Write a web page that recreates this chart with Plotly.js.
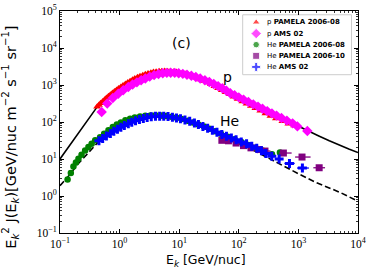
<!DOCTYPE html>
<html><head><meta charset="utf-8">
<script src="https://cdn.plot.ly/plotly-3.0.1.min.js"></script>
<style>body{margin:0;padding:0;background:#fff}#g{width:374px;height:279px}</style>
</head><body><div id="g"></div>
<script>
// ---- model curves ----
const pModelE = [0.1,0.13,0.17,0.22,0.3,0.42,0.6,0.85,1.2,1.7,2.4,3.4,4.8,6.8,10,15,22,33,50,75,110,170,250,400,600,1000,1500,2200,3300,5000,7000,10000];
const pModelJ = [10,18,33,59,119,256,470,750,1080,1450,1800,2100,2300,2330,2200,1900,1560,1200,870,600,430,305,225,155,113,76,56,42,31,23,18.5,15];
const heModelE = [0.1,0.15,0.2,0.3,0.44,0.7,1,2,4,10,30,60,100,140,200,300,500,1000,2000,5000,10000];
const heModelJ = [1.9,4.0,7.3,15,29,50,72,115,138,115,62,38,27,21,15.5,11,7,4.0,2.3,1.25,0.72];

// ---- p PAMELA 2006-08 ----
const pPamE = [0.42,0.45,0.48,0.52,0.56,0.6,0.65,0.7,0.76,0.82,0.89,0.96,1.05,1.14,1.25,1.37,1.5,1.65,1.8,2.0,2.2,2.45,2.7,3.0,3.35,3.7,4.1,4.6,5.1,5.7,6.4,7.1,8.0,9.0,10,11.3,12.7,14.3,16,18,20,23,26,30,34,39,45,52,60,70,82,96,115,135,160,190,230,280,340,420,540,680,850];
const pPamJ = [260,290,320,360,400,445,495,545,605,665,735,805,885,965,1060,1160,1270,1390,1490,1610,1720,1840,1950,2050,2150,2230,2290,2340,2370,2380,2370,2340,2290,2230,2160,2070,1970,1870,1770,1650,1540,1410,1290,1160,1040,930,820,720,640,560,480,420,360,310,270,235,200,170,145,124,104,90,80];

// ---- p AMS 02 ----
const pAmsE = [0.5,0.62,0.77,0.95,1.15,1.4,1.65,1.95,2.3,2.7,3.2,3.8,4.5,5.3,6.2,7.2,8.4,9.8,11.5,13.5,16,19,22.5,27,32,38,45,53,62,72,85,100,120,145,175,210,250,300,360,430,520,640,800,962,1413];
const pAmsJ = [186,316,446,580,720,880,1030,1180,1350,1500,1680,1850,1980,2080,2130,2150,2130,2080,2000,1900,1780,1640,1500,1350,1200,1060,930,820,700,600,527,464,403,347,300,261,228,197,171,149,128,109,92,76,57];

// ---- He PAMELA 2006-08 ----
const hePamE = [0.134,0.152,0.168,0.185,0.204,0.23,0.264,0.3,0.34,0.39,0.47,0.55,0.65,0.77,0.9,1.05,1.25,1.5,1.8,2.2,2.7,3.3,4,5,6,7.5,9,11,14,17,21,26,32,40,50,65,85,110,145,190,250,360,490];
const hePamJ = [2.8,4.2,6.3,8,10.2,13,17,21,26,32,39,48,60,73,85,97,112,122,132,140,147,151,152,150,146,139,131,121,108,97,86,75,66,56,48,40,34,29,24,20,17,13.5,14.9];
const hePamErr = [0,0,0,0,0,0,0,0,0,0,0,0,0,0,0,0,0,0,0,0,0,0,0,0,0,0,0,0,0,0,0,0,0,0,0,0,0,0,0,0,0,1.2,2.5];

// ---- He PAMELA 2006-10 ----
const heP10E = [52,67,90,120,160,220,275,560,1150,2230];
const heP10J = [32,31,27,23,20,18,16.4,14.5,11.3,5.8];
const heP10Eplus = [4,5,6,8,12,15,65,210,450,570];
const heP10Eminus = [4,5,6,8,12,15,45,90,270,450];

// ---- He AMS 02 ----
const heAmsE = [0.45,0.52,0.6,0.7,0.8,0.92,1.05,1.2,1.4,1.6,1.85,2.15,2.5,2.9,3.4,4,4.7,5.5,6.5,7.7,9,10.5,12.5,15,18,21,25,30,36,43,52,62,75,90,110,135,165,200,240,284,358,475,708,1167];
const heAmsJ = [31,36,42,49,56,64,72,80,90,99,108,117,125,132,138,142,144,143,140,135,129,122,114,104,94,85,76,68,60,53,46,41,37,33,29,26,22,19.5,16.8,14,11.8,10,7.6,5.7];
const heAmsEplus = [0,0,0,0,0,0,0,0,0,0,0,0,0,0,0,0,0,0,0,0,0,0,0,0,0,0,0,0,0,0,0,0,0,0,0,0,0,0,0,25,40,75,160,333];
const heAmsEminus = [0,0,0,0,0,0,0,0,0,0,0,0,0,0,0,0,0,0,0,0,0,0,0,0,0,0,0,0,0,0,0,0,0,0,0,0,0,0,0,25,38,65,126,217];

// ---- tick labels ----
const xTickVals = [0.1,1,10,100,1000,10000];
const xTickText = ['10<sup>−1</sup>','10<sup>0</sup>','10<sup>1</sup>','10<sup>2</sup>','10<sup>3</sup>','10<sup>4</sup>'];
const yTickVals = [0.1,1,10,100,1000,10000,100000];
const yTickText = ['10<sup>−1</sup>','10<sup>0</sup>','10<sup>1</sup>','10<sup>2</sup>','10<sup>3</sup>','10<sup>4</sup>','10<sup>5</sup>'];

// ---- legend ----
const legLabels = ['p <b>PAMELA 2006-08</b>','p <b>AMS 02</b>','He <b>PAMELA 2006-08</b>','He <b>PAMELA 2006-10</b>','He <b>AMS 02</b>'];
const legColors = ['#ff0000','#ff00ff','#008000','#800080','#0000ff'];
const legSymbols = ['triangle-up','diamond','circle','square','cross'];
const legSizes = [7,8,6.5,7,7.5];

// plot area in pixels
const L=59.5, R=358, T=10.7, B=233;
const px = x => (x-L)/(R-L);
const py = y => 1-(y-T)/(B-T);
const legRowsY = [22,33.3,44.4,55.6,66.7];

const traces = [
  {x:pModelE,y:pModelJ,mode:'lines',line:{color:'#000',width:1.6},showlegend:false,hoverinfo:'skip'},
  {x:heModelE,y:heModelJ,mode:'lines',line:{color:'#000',width:1.6,dash:'6px,3px'},showlegend:false,hoverinfo:'skip'},
  {x:pPamE,y:pPamJ,mode:'markers',marker:{symbol:'triangle-up',color:'#ff0000',size:7},showlegend:false},
  {x:pAmsE,y:pAmsJ,mode:'markers',marker:{symbol:'diamond',color:'#ff00ff',size:8},showlegend:false},
  {x:hePamE,y:hePamJ,mode:'markers',marker:{symbol:'circle',color:'#008000',size:6.5},
   error_y:{type:'data',array:hePamErr,color:'#008000',thickness:1.2,width:0},showlegend:false},
  {x:heP10E,y:heP10J,mode:'markers',marker:{symbol:'square',color:'#800080',size:7},
   error_x:{type:'data',array:heP10Eplus,arrayminus:heP10Eminus,color:'#800080',thickness:1.3,width:0},showlegend:false},
  {x:heAmsE,y:heAmsJ,mode:'markers',marker:{symbol:'cross',color:'#0000ff',size:7.5},
   error_x:{type:'data',array:heAmsEplus,arrayminus:heAmsEminus,color:'#0000ff',thickness:1.3,width:0},showlegend:false},
  {x:legRowsY.map(()=>256),y:legRowsY,xaxis:'x2',yaxis:'y2',mode:'markers',
   marker:{symbol:legSymbols,color:legColors,size:legSizes},showlegend:false,hoverinfo:'skip'}
];

const ann = (x,y,text,size,extra)=>Object.assign({xref:'paper',yref:'paper',x:px(x),y:py(y),text:text,showarrow:false,
  xanchor:'center',yanchor:'middle',font:{family:'DejaVu Sans',size:size,color:'#000'}},extra||{});
const annotations = [
  ann(181,43,'(c)',14),
  ann(227,77,'p',14),
  ann(229,121,'He',14),
  ann(10,137,'E<sub><i>k</i></sub><sup>2</sup> J(E<sub><i>k</i></sub>)[GeV/nuc m<sup>−2</sup> s<sup>−1</sup> sr<sup>−1</sup>]',14.5,{textangle:-90}),
  ann(206,261,'E<sub><i>k</i></sub> [GeV/nuc]',12.5)
];
legLabels.forEach((t,i)=>annotations.push(ann(265,legRowsY[i],t,7,{xanchor:'left'})));

const axBase = {showgrid:false,zeroline:false,showline:true,linecolor:'#000',linewidth:1,mirror:'ticks',
  ticks:'inside',ticklen:4,tickwidth:1,tickcolor:'#000',
  minor:{ticks:'inside',ticklen:2,tickwidth:0.8,tickcolor:'#000',dtick:'D1',showgrid:false},
  tickfont:{family:'Liberation Serif',size:11.5,color:'#000'},tickmode:'array'};

const layout = {
  width:374,height:279,margin:{l:L,r:374-R,t:T,b:279-B},
  paper_bgcolor:'#fff',plot_bgcolor:'#fff',showlegend:false,
  xaxis:Object.assign({},axBase,{type:'log',range:[-1,4],tickvals:xTickVals,ticktext:xTickText}),
  yaxis:Object.assign({},axBase,{type:'log',range:[-1,5],tickvals:yTickVals,ticktext:yTickText}),
  xaxis2:{overlaying:'x',range:[L,R],visible:false,fixedrange:true},
  yaxis2:{overlaying:'y',range:[B,T],visible:false,fixedrange:true},
  shapes:[{type:'rect',xref:'paper',yref:'paper',x0:px(242.5),x1:px(351.5),y0:py(74.5),y1:py(14.5),
    line:{color:'#cccccc',width:1},fillcolor:'#ffffff',layer:'below'}],
  annotations:annotations
};
Plotly.newPlot('g',traces,layout,{staticPlot:true});
</script></body></html>
